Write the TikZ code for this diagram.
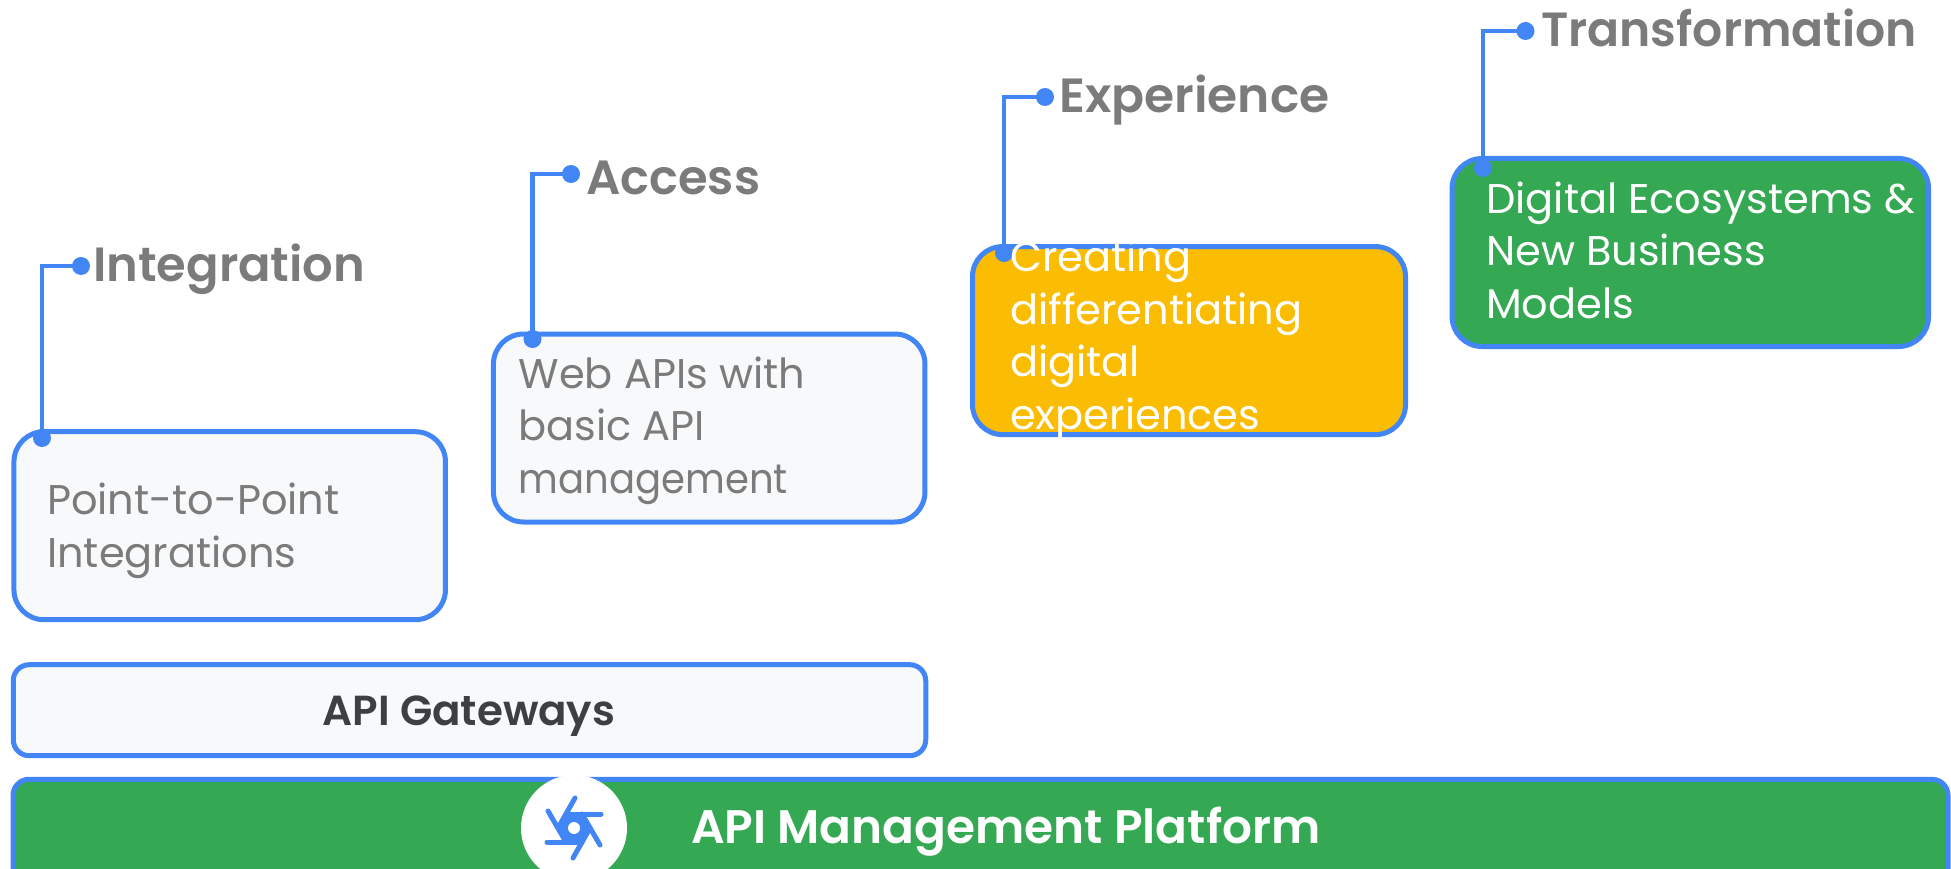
\documentclass[tikz,border=0pt]{standalone}
\usepackage{fontspec}
\setmainfont{Poppins}
\newfontfamily\headfont{Poppins SemiBold}
\newfontfamily\bodyfont{Poppins}
\newfontfamily\midfont{Poppins Medium}
\newcommand{\narrowed}[2]{{\addfontfeature{FakeStretch=#1}#2}}
\definecolor{gblue}{HTML}{4285F4}
\definecolor{ggreen}{HTML}{34A853}
\definecolor{gyellow}{HTML}{FBBC04}
\definecolor{gpale}{HTML}{F8F9FA}
\definecolor{ggrey}{HTML}{7B7B7B}
\definecolor{gdark}{HTML}{3C4043}
\tikzset{
 panel/.style={draw=gblue,line width=5pt,rounded corners=30pt,inner sep=0pt},
 palebox/.style={panel,fill=gpale},
 heading/.style={anchor=base west,inner sep=0pt,text=ggrey,font=\headfont\fontsize{48}{58}\selectfont},
 bodytext/.style={anchor=base west,inner sep=0pt,align=left,font=\bodyfont\fontsize{41.5}{52.5}\selectfont},
 dot/.style={circle,fill=gblue,inner sep=0pt,minimum size=18pt},
 link/.style={draw=gblue,line width=4.5pt},
}
\begin{document}
\begin{tikzpicture}[x=1pt,y=-1pt]
\useasboundingbox (0,0) rectangle (1951,869);
\clip (0,0) rectangle (1951,869);
% boxes
\node[palebox,minimum width=431.5pt,minimum height=188pt] (box1) at (229.7,525.7) {};
\node[palebox,minimum width=431.5pt,minimum height=188pt] (box2) at (709.2,428) {};
\node[panel,fill=gyellow,minimum width=433pt,minimum height=188pt] (box3) at (1189,340.6) {};
\node[panel,fill=ggreen,minimum width=476.5pt,minimum height=188pt] (box4) at (1690.3,252.5) {};
\node[palebox,rounded corners=16pt,minimum width=912.5pt,minimum height=91pt] (gate) at (469.5,710.2) {};
\node[panel,fill=ggreen,rounded corners=16pt,minimum width=1935pt,minimum height=140pt] (plat) at (980.5,849.3) {};
% dots and connectors
\node[dot] (a1) at (81,266) {};
\node[dot] (a2) at (42,438) {};
\node[dot] (b1) at (571,174) {};
\node[dot] (b2) at (532.5,339) {};
\node[dot] (c1) at (1045,97) {};
\node[dot] (c2) at (1004,253) {};
\node[dot] (d1) at (1525.5,31) {};
\node[dot] (d2) at (1483,168) {};
\draw[link] (a1.center) -| (a2.center);
\draw[link] (b1.center) -| (b2.center);
\draw[link] (c1.center) -| (c2.center);
\draw[link] (d1.center) -| (d2.center);
% headings
\node[heading] (h1) at (93,281) {Integration};
\node[heading] (h2) at (586,195) {Access};
\node[heading] (h3) at (1059,113) {\narrowed{1.015}{Experience}};
\node[heading] (h4) at (1541,47) {\narrowed{0.985}{Transformation}};
% body
\node[bodytext,text=ggrey] (t1) at (47,567) {Point-to-Point\\Integrations};
\node[bodytext,text=ggrey] (t2) at (518.5,493) {Web APIs with\\basic API\\\narrowed{0.93}{management}};
\node[bodytext,text=white] (t3) at (1010,429) {Creating\\differentiating\\digital\\experiences};
\node[bodytext,text=white] (t4) at (1486,318) {Digital Ecosystems \&\\New Business\\Models};
\node[anchor=base,inner sep=0pt,text=gdark,font=\headfont\fontsize{42}{50}\selectfont] (t5) at (469,725) {API Gateways};
\node[anchor=base west,inner sep=0pt,text=white,font=\headfont\fontsize{47}{56}\selectfont] (t6) at (691,843) {API Management Platform};
% logo
\node[circle,fill=white,inner sep=0pt,minimum size=106pt] (logo) at (574,828) {};
\begin{scope}[shift={(logo.center)},line width=5pt,line cap=round]
\fill[gblue] (-8,-14)--(8,-14)--(16,0)--(8,14)--(-8,14)--(-16,0)--cycle;
\draw[gblue] (-8,-14)--(27,-14);
\draw[gblue] (8,-14)--(26,17);
\draw[gblue] (16,0)--(-1,30);
\draw[gblue] (8,14)--(-27,14);
\draw[gblue] (-8,14)--(-26,-17);
\draw[gblue] (-16,0)--(1,-30);
\fill[white] (0,0) circle (6pt);
\end{scope}
\end{tikzpicture}
\end{document}
